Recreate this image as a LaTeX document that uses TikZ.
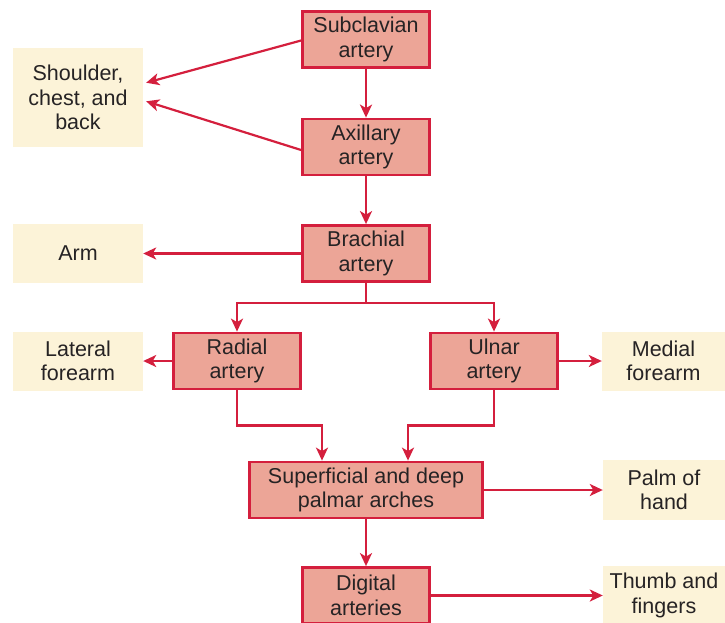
\documentclass[tikz,border=0pt]{standalone}
\usepackage{fontspec}
\setmainfont{Liberation Sans}
\usetikzlibrary{arrows.meta,calc}
\definecolor{artred}{HTML}{D41F3D}
\definecolor{artfill}{HTML}{ECA597}
\definecolor{beige}{HTML}{FCF3D8}
\definecolor{txt}{HTML}{262324}
\begin{document}
\begin{tikzpicture}[x=1pt,y=-1pt,
  every node/.style={font=\fontsize{21.5}{24.5}\selectfont, text=txt, align=center, inner sep=0pt},
  artbox/.style={draw=artred, line width=2.8pt, fill=artfill, minimum width=#1, minimum height=56},
  artbox/.default=127,
  regbox/.style={fill=beige, minimum width=130, minimum height=59},
  arr/.style={draw=artred, line width=2.2pt, -{Stealth[length=13pt,width=12pt,inset=3.5pt]}},
  ln/.style={draw=artred, line width=2.2pt}]
\useasboundingbox (0,0) rectangle (725,622);
% artery boxes
\node[artbox] (sub) at (366,39.5) {Subclavian\\artery};
\node[artbox] (axi) at (366,147) {Axillary\\artery};
\node[artbox] (bra) at (366,253.5) {Brachial\\artery};
\node[artbox] (rad) at (237,361) {Radial\\artery};
\node[artbox] (uln) at (494,361) {Ulnar\\artery};
\node[artbox=233] (arc) at (366,490) {Superficial and deep\\palmar arches};
\node[artbox] (dig) at (366,595.5) {Digital\\arteries};
% region boxes
\node[regbox, minimum height=99] (sho) at (78,97.5) {Shoulder,\\chest, and\\back};
\node[regbox] (arm) at (78,253.5) {Arm};
\node[regbox] (lat) at (78,361) {Lateral\\forearm};
\node[regbox, minimum width=123] (med) at (663.5,361) {Medial\\forearm};
\node[regbox, minimum width=122, minimum height=60] (palm) at (664,490) {Palm of\\hand};
\node[regbox, minimum width=122] (thu) at (664,595.5) {Thumb and\\fingers};
% connectors
\draw[arr, shorten >=1pt] ($(sub.west)+(0,1)$) -- ($(sho.east)+(2,-14.5)$);
\draw[arr, shorten >=1pt] ($(axi.west)+(0,3)$) -- ($(sho.east)+(2,3.5)$);
\draw[arr] (sub.south) -- (axi.north);
\draw[arr] (axi.south) -- (bra.north);
\draw[arr] (bra.west) -- (arm.east);
\draw[ln] (bra.south) -- ++(0,20) coordinate (br);
\draw[arr] (br) -| (rad.north);
\draw[arr] (br) -| (uln.north);
\draw[arr] (rad.west) -- (lat.east);
\draw[arr] (uln.east) -- (med.west);
\draw[arr] (rad.south) -- ++(0,35) -| ($(arc.north)+(-44,0)$);
\draw[arr] (uln.south) -- ++(0,35) -| ($(arc.north)+(42,0)$);
\draw[arr] (arc.east) -- (palm.west);
\draw[arr] (arc.south) -- (dig.north);
\draw[arr] (dig.east) -- (thu.west);
\end{tikzpicture}
\end{document}
